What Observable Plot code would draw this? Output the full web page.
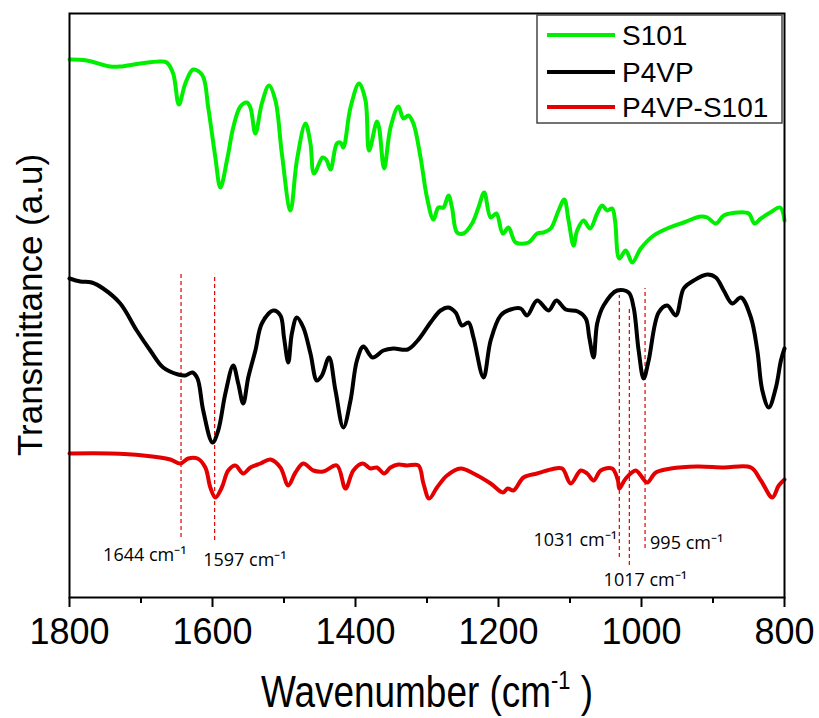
<!DOCTYPE html>
<html>
<head>
<meta charset="utf-8">
<script src="https://cdn.jsdelivr.net/npm/d3@7"></script>
<script src="https://cdn.jsdelivr.net/npm/@observablehq/plot@0.6"></script>
<style>
  html, body { margin: 0; padding: 0; background: #fff; }
  #chart { position: relative; width: 819px; height: 718px; }
</style>
</head>
<body>
<div id="chart"></div>
<script>
// ---- Data (wavenumber in cm-1, transmittance in arbitrary units) ----
const seriesNames = ["S101", "P4VP", "P4VP-S101"];
const seriesColors = ["#00ee00", "#000000", "#e40000"];

const wnS101 = [1800,1776,1743,1729,1701,1673,1664,1655,1647,1638,1627,1614,1606,1596,1589,1579,1571,1561,1552,1547,1540,1531,1521,1512,1503,1491,1482,1470,1463,1458,1446,1441,1435,1426,1421,1417,1407,1395,1386,1381,1370,1367,1360,1351,1340,1333,1326,1319,1309,1300,1291,1284,1277,1270,1265,1258,1249,1237,1228,1220,1211,1203,1194,1186,1176,1158,1146,1137,1127,1116,1108,1102,1095,1090,1081,1072,1062,1055,1048,1041,1037,1031,1022,1013,1001,983,964,941,917,908,896,885,866,850,842,833,820,806,800];
const tS101 = [538,537,531,531,534,536,535,524,493,514,528,522,490,440,410,440,470,491,495,490,464,494,512,497,444,387,437,474,454,424,440,438,428,454,455,450,490,514,497,447,476,470,429,470,491,479,482,474,440,400,378,390,390,402,390,365,364,374,390,405,380,384,364,370,355,355,364,365,369,387,398,377,352,367,377,369,384,392,387,389,377,339,347,335,349,362,369,375,381,380,374,382,385,384,374,379,385,390,377];

const wnP4VP = [1800,1785,1769,1753,1729,1706,1687,1669,1648,1638,1628,1621,1613,1600,1592,1582,1571,1564,1557,1550,1540,1531,1515,1505,1500,1494,1489,1482,1473,1463,1454,1447,1437,1428,1417,1407,1398,1389,1376,1361,1347,1327,1313,1295,1281,1270,1260,1251,1242,1235,1221,1211,1197,1183,1169,1160,1146,1130,1119,1106,1089,1078,1073,1067,1062,1053,1034,1018,1011,1004,997,990,976,964,952,941,927,908,896,885,873,861,847,838,831,822,812,805,800];
const tP4VP = [319,316,315,309,294,267,247,230,223,222,225,219,187,155,167,204,232,214,194,220,247,274,287,282,260,235,264,280,270,244,217,222,240,207,170,197,237,251,240,247,249,248,257,275,287,290,285,272,275,260,220,257,282,288,289,282,297,287,297,288,286,279,260,240,274,292,307,305,290,247,219,237,285,292,282,309,317,323,320,307,294,300,280,247,207,190,210,237,249];

const wnMix = [1800,1743,1697,1659,1645,1634,1621,1610,1603,1596,1587,1578,1568,1557,1547,1533,1519,1505,1494,1484,1473,1459,1445,1426,1414,1403,1390,1379,1370,1360,1351,1340,1328,1312,1305,1297,1286,1272,1253,1235,1211,1194,1187,1179,1165,1146,1127,1111,1099,1085,1076,1067,1057,1041,1033,1031,1022,1008,999,992,980,959,922,885,847,833,817,808,800];
const tMix = [144,144,142,138,134,139,139,130,110,100,110,127,132,124,130,134,138,130,112,125,134,127,126,132,109,127,134,129,130,124,130,133,132,132,114,99,110,122,129,124,114,105,109,107,120,124,128,129,114,127,124,117,127,129,117,109,119,127,120,115,125,129,131,130,130,117,100,112,118];

// Annotated bands
const bandWn = [1644, 1597, 1031, 1017, 995];
const bandTop = [324, 320, 302, 290, 309];
const bandBottom = [60, 57, 40, 32, 49];
const bandLabels = ["1644 cm\u207B\u00B9", "1597 cm\u207B\u00B9", "1031 cm\u207B\u00B9", "1017 cm\u207B\u00B9", "995 cm\u207B\u00B9"];
const labelWn = [1753, 1613, 1151, 1053, 988];
const labelT = [37, 32, 52, 12, 49];

// Axis ticks
const majorTicks = [1800, 1600, 1400, 1200, 1000, 800];
const minorTicks = [1700, 1500, 1300, 1100, 900];

// ---- Build tables ----
const toRows = (wn, t, name) => wn.map((w, i) => ({wn: w, t: t[i], series: name}));
const rows = [
  ...toRows(wnS101, tS101, seriesNames[0]),
  ...toRows(wnP4VP, tP4VP, seriesNames[1]),
  ...toRows(wnMix, tMix, seriesNames[2])
];
const bands = bandWn.map((w, i) => ({wn: w, y1: bandBottom[i], y2: bandTop[i]}));
const labels = bandLabels.map((s, i) => ({text: s, wn: labelWn[i], t: labelT[i]}));

const plot = Plot.plot({
  width: 819,
  height: 718,
  marginLeft: 69,
  marginRight: 35,
  marginTop: 13,
  marginBottom: 121,
  style: {fontFamily: "'Liberation Sans', Arial, sans-serif", background: "#fff", color: "#000"},
  x: {domain: [1800, 800]},
  y: {domain: [0, 584], axis: null},
  color: {domain: seriesNames, range: seriesColors},
  marks: [
    Plot.ruleX(bands, {x: "wn", y1: "y1", y2: "y2", stroke: "#e40000", strokeWidth: 1.2, strokeDasharray: "4,3"}),
    Plot.line(rows, {x: "wn", y: "t", z: "series", stroke: "series", strokeWidth: 4, curve: "catmull-rom", strokeLinejoin: "round"}),
    Plot.text(labels, {x: "wn", y: "t", text: "text", textAnchor: "start", lineAnchor: "bottom", fontSize: 18, fontFamily: "'Open Sans', sans-serif", fill: "#000"}),
    Plot.axisX({ticks: minorTicks, tickSize: 6, strokeWidth: 2, text: null, label: null}),
    Plot.axisX({ticks: majorTicks, tickSize: 10, tickPadding: 11, strokeWidth: 2, fontSize: 36, tickFormat: d => String(d), label: null}),
    Plot.frame({stroke: "#000", strokeWidth: 2})
  ]
});

document.getElementById("chart").appendChild(plot);

// ---- Axis titles and legend ----
const svg = d3.select(plot);
const xt = svg.append("text")
  .attr("transform", "translate(427,707) scale(0.84,1)")
  .attr("text-anchor", "middle")
  .attr("font-family", "'Liberation Sans', Arial, sans-serif")
  .attr("font-size", 44)
  .attr("fill", "#000");
xt.append("tspan").text("Wavenumber (cm");
xt.append("tspan").attr("font-size", 26).attr("dy", -18).text("-1");
xt.append("tspan").attr("dy", 18).text(" )");

svg.append("text")
  .attr("transform", "translate(42,305) rotate(-90)")
  .attr("text-anchor", "middle")
  .attr("font-family", "'Liberation Sans', Arial, sans-serif")
  .attr("font-size", 35)
  .attr("fill", "#000")
  .text("Transmittance (a.u)");

const lg = svg.append("g");
lg.append("rect").attr("x", 537).attr("y", 15).attr("width", 245).attr("height", 108)
  .attr("fill", "#fff").attr("stroke", "#444").attr("stroke-width", 1.5);
const rowY = [35, 72, 107];
seriesNames.forEach((name, i) => {
  lg.append("line").attr("x1", 547).attr("x2", 615).attr("y1", rowY[i]).attr("y2", rowY[i])
    .attr("stroke", seriesColors[i]).attr("stroke-width", 4);
  lg.append("text").attr("x", 622).attr("y", rowY[i] + 10)
    .attr("text-anchor", "start")
    .attr("font-family", "'Liberation Sans', Arial, sans-serif")
    .attr("font-size", 28).attr("fill", "#000").text(name);
});
</script>
</body>
</html>
